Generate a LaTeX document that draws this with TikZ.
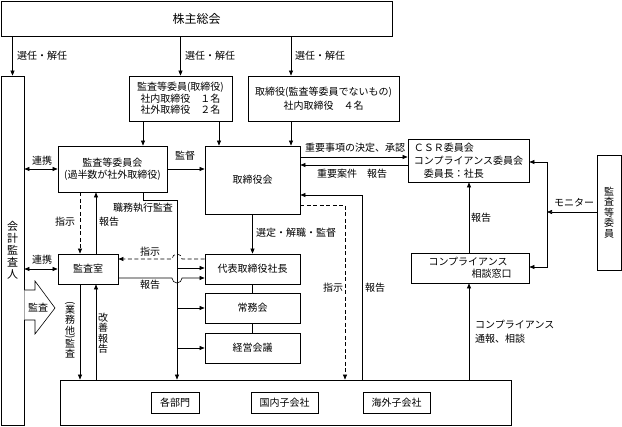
\documentclass[tikz,border=0pt]{standalone}
\usepackage{fontspec}
\usepackage{graphicx}
\setmainfont{Noto Sans CJK JP}
\usetikzlibrary{arrows.meta}
\begin{document}
\begin{tikzpicture}[x=1pt,y=-1pt,
  >={Triangle[length=5pt,width=4pt]},
  box/.style={draw,line width=0.8pt,inner sep=1pt,align=center,font=\fontsize{10}{12}\selectfont},
  conn/.style={line width=0.6pt},
  dsh/.style={conn,dash pattern=on 4pt off 2.5pt},
  lbl/.style={inner sep=0pt,font=\fontsize{10}{12}\selectfont},
  vlbl/.style={inner sep=0pt,align=center,font=\fontsize{10}{10.5}\selectfont},
]
\useasboundingbox (0,0) rectangle (622,427);

% ---------- boxes ----------
\node[box,minimum width=391pt,minimum height=35pt,font=\fontsize{12}{14}\selectfont] (gm) at (196.5,18.5) {株主総会};
\node[box,minimum width=23pt,minimum height=349pt,font=\fontsize{11}{12}\selectfont] (aud) at (12.5,250.5) {会\\計\\監\\査\\人};
\node[box,minimum width=103pt,minimum height=45pt,font=\fontsize{10}{11.5}\selectfont] (acm) at (180.5,98.5) {監査等委員(取締役)\\社内取締役　１名\\社外取締役　２名};
\node[box,minimum width=151pt,minimum height=45pt,font=\fontsize{10}{14}\selectfont] (dir) at (323.5,98.5) {取締役(監査等委員でないもの)\\社内取締役　４名};
\node[box,minimum width=109pt,minimum height=46pt] (ac) at (112.5,169) {監査等委員会\\(過半数が社外取締役)};
\node[box,minimum width=95pt,minimum height=68pt] (board) at (252.5,180) {取締役会};
\node[box,minimum width=60pt,minimum height=30pt] (ia) at (88,269) {監査室};
\node[box,minimum width=95pt,minimum height=30pt] (pres) at (252.5,269) {代表取締役社長};
\node[box,minimum width=95pt,minimum height=30pt] (jomu) at (252.5,308) {常務会};
\node[box,minimum width=95pt,minimum height=30pt] (keiei) at (252.5,348) {経営会議};
\node[box,minimum width=451pt,minimum height=45pt] (bot) at (285.5,402.5) {};
\node[box,minimum width=48pt,minimum height=21pt] (bu) at (175,402.5) {各部門};
\node[box,minimum width=67pt,minimum height=21pt] (dom) at (284.5,402.5) {国内子会社};
\node[box,minimum width=67pt,minimum height=21pt] (ovs) at (396.5,402.5) {海外子会社};
\node[box,minimum width=121pt,minimum height=43pt,align=left,font=\fontsize{10}{13}\selectfont] (csr) at (468.5,160.5) {ＣＳＲ委員会\\コンプライアンス委員会\\\hspace*{10pt}委員長：社長};
\node[box,minimum width=118pt,minimum height=30pt,align=left] (desk) at (470,268) {コンプライアンス\\\hspace*{43pt}相談窓口};
\node[box,minimum width=24pt,minimum height=115pt,font=\fontsize{10}{10.5}\selectfont] (mon) at (609,212.5) {監\\査\\等\\委\\員};

% ---------- 監査 block arrow ----------
\draw[line width=0.6pt,fill=white] (aud.east |- 0,290) -- (35,290) -- (35,281) -- (55,308) -- (35,334) -- (35,320) -- (aud.east |- 0,320);
\node[lbl] (kansa) at (38,308) {監査};

% ---------- connectors from 株主総会 ----------
\draw[conn,->] (aud.north |- gm.south) -- (aud.north);
\draw[conn,->] (acm.north |- gm.south) -- (acm.north);
\draw[conn,->] (291,0 |- gm.south) -- (291,0 |- dir.north);
\node[lbl,anchor=west] (s1) at (17,56) {選任・解任};
\node[lbl,anchor=west] (s2) at (185,56) {選任・解任};
\node[lbl,anchor=west] (s3) at (295,56) {選任・解任};

\draw[conn,->] (143,0 |- acm.south) -- (143,0 |- ac.north);
\draw[conn,->] (219,0 |- acm.south) -- (219,0 |- board.north);
\draw[conn,->] (291,0 |- dir.south) -- (291,0 |- board.north);

% ---------- 連携 ----------
\draw[conn,<->] (aud.east |- ac.west) -- (ac.west);
\node[lbl] (r1) at (42,161) {連携};
\draw[conn,<->] (aud.east |- ia.west) -- (ia.west);
\node[lbl] (r2) at (42,260) {連携};

% ---------- 監督 ----------
\draw[conn,->] (ac.east) -- (ac.east -| board.west);
\node[lbl] (kantoku) at (185,156) {監督};

% ---------- 監査等委員会 <-> 監査室 ----------
\draw[dsh,->] (80,0 |- ac.south) -- (80,0 |- ia.north);
\node[lbl] (sj1) at (65,222) {指示};
\draw[conn,->] (96,0 |- ia.north) -- (96,0 |- ac.south);
\node[lbl] (hk1) at (109,222) {報告};

% ---------- 職務執行監査 ----------
\coordinate (jx) at (177,200);
\draw[conn,->] (143,0 |- ac.south) -- (143,0 |- jx) -- (jx) -- (jx |- bot.north);
\node[lbl] (shokumu) at (143,208) {職務執行監査};
\draw[conn,->] (jx |- 0,268) -- (pres.west |- 0,268);
\draw[conn,->] (jx |- jomu.west) -- (jomu.west);
\draw[conn,->] (jx |- keiei.west) -- (keiei.west);

% ---------- 監査室 <-> 代表取締役社長 ----------
\draw[dsh,->] (pres.west |- 0,259) -- (182,259) arc[start angle=0,end angle=180,radius=5pt] -- (ia.east |- 0,259);
\node[lbl] (sj2) at (150,252) {指示};
\draw[conn,->] (ia.east |- 0,278) -- (172,278) arc[start angle=180,end angle=360,radius=5pt] -- (pres.west |- 0,278);
\node[lbl] (hk2) at (150,285) {報告};

% ---------- 監査室 <-> 各部門 ----------
\draw[conn,->] (80,0 |- ia.south) -- (80,0 |- bot.north);
\node[vlbl] (gyomu) at (70,330) {\rotatebox[origin=c]{-90}{(}\\[-4pt]業\\務\\他\\[-4pt]\rotatebox[origin=c]{-90}{)}\\[-4pt]監\\査};
\draw[conn,->] (96,0 |- bot.north) -- (96,0 |- ia.south);
\node[vlbl] (kaizen) at (103,333) {改\\善\\報\\告};

% ---------- 取締役会 -> 社長 ----------
\draw[conn,->] (board.south) -- (pres.north);
\node[lbl,anchor=west] (sentei) at (256,233) {選定・解職・監督};
\draw[conn] (pres.south) -- (jomu.north);
\draw[conn] (jomu.south) -- (keiei.north);

% ---------- 取締役会 <-> CSR ----------
\draw[conn,->] (board.east |- 0,157) -- (csr.west |- 0,157);
\node[lbl] (juyo1) at (355,148) {重要事項の決定、承認};
\draw[conn,->] (csr.west |- 0,165) -- (board.east |- 0,165);
\node[lbl] (juyo2) at (352,174) {重要案件　報告};

% ---------- 取締役会 <-> 部門 ----------
\draw[conn,->] (362,0 |- bot.north) -- (362,195) -- (board.east |- 0,195);
\node[lbl] (hk3) at (375,288) {報告};
\draw[dsh,->] (board.east |- 0,205) -- (345,205) -- (345,0 |- bot.north);
\node[lbl] (sj3) at (333,288) {指示};

% ---------- compliance ----------
\draw[conn,->] (469,0 |- desk.north) -- (469,0 |- csr.south);
\node[lbl] (hk4) at (481,218) {報告};
\draw[conn,->] (469,0 |- bot.north) -- (469,0 |- desk.south);
\node[lbl,anchor=west,align=left,font=\fontsize{10}{14}\selectfont] (tsuho) at (475,332) {コンプライアンス\\通報、相談};

% ---------- monitor ----------
\draw[conn,->] (mon.west |- 0,212) -- (547,212);
\draw[conn,<->] (csr.east |- 0,162) -- (547,162) -- (547,267) -- (desk.east |- 0,267);
\node[lbl] (monitor) at (574,203) {モニター};
\end{tikzpicture}
\end{document}
